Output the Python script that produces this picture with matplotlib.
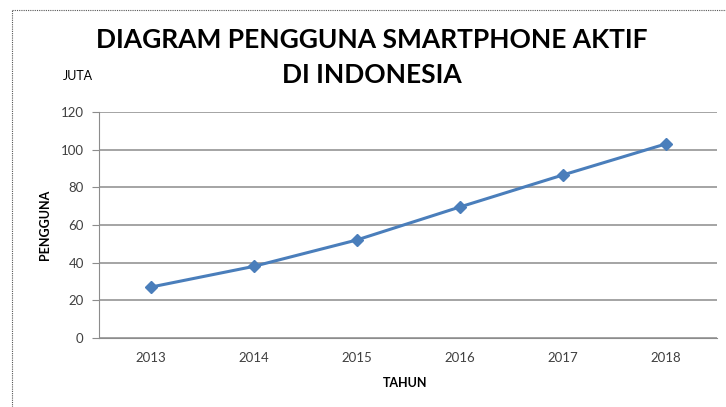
import matplotlib
matplotlib.use('Agg')
import matplotlib.pyplot as plt
from matplotlib.lines import Line2D

years = ['2013', '2014', '2015', '2016', '2017', '2018']
users = [27, 38, 52, 69.5, 86.5, 103]
y_ticks = [0, 20, 40, 60, 80, 100, 120]

W, H = 726, 407
fig = plt.figure(figsize=(W / 100, H / 100), dpi=100)
ax = fig.add_axes([99 / W, 1 - 338 / H, (717 - 99) / W, (338 - 112) / H])

x = range(len(years))
ax.plot(x, users, color='#4a7ebb', lw=2.2, marker='D', markersize=6.5, zorder=3)

ax.set_xlim(-0.5, len(years) - 0.5)
ax.set_ylim(0, 120)
ax.set_yticks(y_ticks)
ax.set_xticks(list(x))
ax.set_xticklabels(years)

ax.grid(axis='y', color='#8c8c8c', lw=1.1)
ax.set_axisbelow(True)
for s in ['top', 'right']:
    ax.spines[s].set_visible(False)
ax.spines['left'].set_color('#8c8c8c')
ax.spines['bottom'].set_color('#8c8c8c')
ax.tick_params(axis='y', length=5, color='#8c8c8c', labelsize=9.5, labelcolor='#404040', pad=6)
ax.tick_params(axis='x', length=0, labelsize=9.5, labelcolor='#404040', pad=10)
for lbl in ax.get_xticklabels() + ax.get_yticklabels():
    lbl.set_family('Lato')

fig.text(372 / W, 1 - 40 / H, 'DIAGRAM PENGGUNA SMARTPHONE AKTIF', ha='center', va='center',
         fontsize=19, fontweight='bold', family='Lato')
fig.text(372 / W, 1 - 75 / H, 'DI INDONESIA', ha='center', va='center',
         fontsize=19, fontweight='bold', family='Lato')
fig.text(78 / W, 1 - 76 / H, 'JUTA', ha='center', va='center', fontsize=9,
         family='Lato')
fig.text(45 / W, 1 - 225 / H, 'PENGGUNA', ha='center', va='center', rotation=90,
         fontsize=9, fontweight='bold', family='Lato')
fig.text(405 / W, 1 - 383 / H, 'TAHUN', ha='center', va='center', fontsize=9,
         fontweight='bold', family='Lato')

# dotted frame
fig.add_artist(Line2D([12 / W, 12 / W], [0, 1 - 10 / H], transform=fig.transFigure,
                      color='#555555', lw=0.8, ls=(0, (1, 1))))
fig.add_artist(Line2D([12 / W, 1], [1 - 10 / H, 1 - 10 / H], transform=fig.transFigure,
                      color='#555555', lw=0.8, ls=(0, (1, 1))))

fig.savefig('out.png', dpi=100)
